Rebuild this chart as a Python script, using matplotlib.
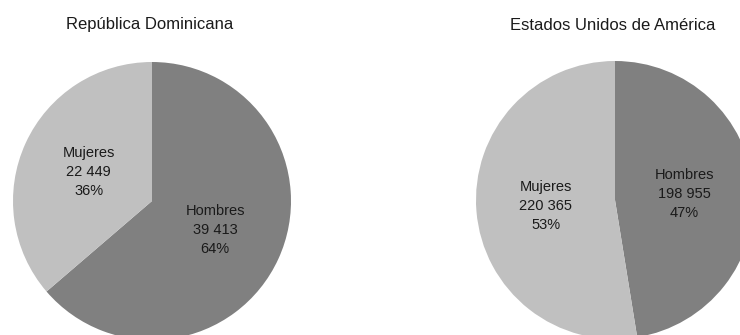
import matplotlib.pyplot as plt

plt.rcParams['font.family'] = ['Liberation Sans', 'DejaVu Sans']

# datos por país
paises = ['República Dominicana', 'Estados Unidos de América']
sexos = ['Hombres', 'Mujeres']
rep_dom = [39413, 22449]
eeuu = [198955, 220365]
colores = ['#808080', '#c0c0c0']

W, H = 740, 335
fig = plt.figure(figsize=(W / 100, H / 100), dpi=100)


def fmt(n):
    return f'{n:,}'.replace(',', ' ')


def pastel(valores, cx, cy, r, titulo, tx):
    # ejes cuadrados en píxeles, centrados en (cx, cy) medido desde arriba
    ax = fig.add_axes([(cx - r) / W, (H - cy - r) / H, 2 * r / W, 2 * r / H])
    total = sum(valores)
    etiquetas = [f'{s}\n{fmt(v)}\n{round(100 * v / total)}%'
                 for s, v in zip(sexos, valores)]
    wedges, textos = ax.pie(valores, colors=colores, startangle=90,
                            counterclock=False, labels=etiquetas,
                            labeldistance=0.5,
                            wedgeprops=dict(linewidth=0))
    for t in textos:
        t.set_ha('center')
        t.set_va('center')
        t.set_multialignment('center')
        t.set_fontsize(10.5)
        t.set_linespacing(1.45)
        t.set_color('#1a1a1a')
    ax.set_xlim(-1, 1)
    ax.set_ylim(-1, 1)
    ax.set_aspect('equal')
    ax.axis('off')
    fig.text(tx / W, 1 - 25 / H, titulo, ha='center', va='center',
             fontsize=12, color='#1a1a1a')


pastel(rep_dom, 152, 201, 139, paises[0], 150)
pastel(eeuu, 615, 200, 139, paises[1], 613)

plt.savefig('out.png', dpi=100)
